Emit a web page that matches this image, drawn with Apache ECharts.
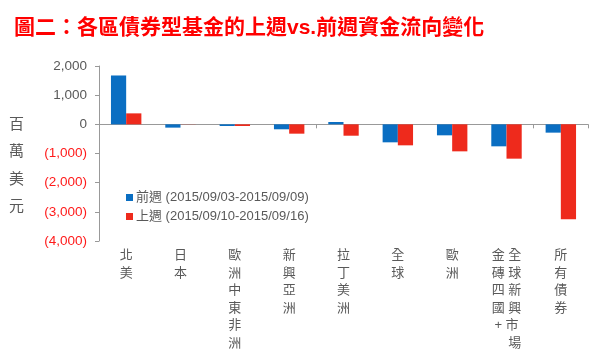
<!DOCTYPE html>
<html>
<head>
<meta charset="utf-8">
<script src="https://cdn.jsdelivr.net/npm/echarts@6/dist/echarts.min.js"></script>
<style>
  html, body { margin: 0; padding: 0; background: #fff; }
  #main { width: 600px; height: 354px; }
</style>
</head>
<body>
<div id="main"></div>
<script>
const categories = ['北美', '日本', '歐洲中東非洲', '新興亞洲', '拉丁美洲', '全球', '歐洲', '全球新興市場金磚四國+', '所有債券'];
const prevWeek = [1675, -113, -57, -170, 80, -617, -377, -754, -285];
const lastWeek = [376, 5, -57, -320, -390, -720, -926, -1177, -3257];
const seriesNames = ['前週 (2015/09/03-2015/09/09)', '上週 (2015/09/10-2015/09/16)'];

const FONT = "'Liberation Sans', 'Noto Sans CJK TC', sans-serif";
const GRAY = '#595959';

// vertical (stacked) category text; long names wrap into a second column on the left
function verticalLabel(name) {
  const chars = Array.from(name);
  if (chars.length <= 6) return chars.join('\n');
  const right = chars.slice(0, 6);
  const left = chars.slice(6);
  return right.map((c, i) => (left[i] || '　') + ' ' + c).join('\n');
}

function fmt(v) {
  const s = Math.abs(v).toLocaleString('en-US');
  return v < 0 ? '{neg|(' + s + ')}' : '{pos|' + s + '}';
}

const chart = echarts.init(document.getElementById('main'));
chart.setOption({
  animation: false,
  backgroundColor: '#fff',
  textStyle: { fontFamily: FONT },
  title: {
    text: '圖二：各區債券型基金的上週vs.前週資金流向變化',
    left: 9, top: 13,
    textStyle: { color: '#ff0000', fontSize: 21, fontWeight: 'bold', fontFamily: FONT }
  },
  graphic: [{
    type: 'text', left: 9, top: 111,
    style: { text: '百\n萬\n美\n元', fill: GRAY, font: '15px ' + FONT, lineHeight: 27.5 }
  }],
  legend: {
    orient: 'vertical', left: 121, top: 186,
    itemWidth: 7, itemHeight: 7, itemGap: 6, icon: 'rect',
    textStyle: { color: GRAY, fontSize: 13, fontFamily: FONT, padding: [0, 0, 0, -2] },
    data: seriesNames
  },
  grid: { left: 99, right: 12, top: 66, bottom: 113 },
  xAxis: [{
    type: 'category', data: categories,
    axisLine: { onZero: true, lineStyle: { color: '#999' } },
    axisTick: { show: true, length: 4, lineStyle: { color: '#999' } },
    axisLabel: { show: false }
  }, {
    type: 'category', data: categories, position: 'bottom',
    axisLine: { show: false }, axisTick: { show: false },
    axisLabel: {
      interval: 0, margin: 6, color: GRAY, fontSize: 13, lineHeight: 17.5,
      fontFamily: FONT, verticalAlign: 'top',
      formatter: verticalLabel
    }
  }],
  yAxis: {
    type: 'value', min: -4000, max: 2000, interval: 1000,
    splitLine: { show: false },
    axisLine: { show: true, lineStyle: { color: '#999' } },
    axisTick: { show: true, length: 4, lineStyle: { color: '#999' } },
    axisLabel: {
      margin: 12, fontSize: 13.5, fontFamily: FONT,
      formatter: fmt,
      rich: {
        pos: { color: GRAY, fontSize: 13.5, fontFamily: FONT },
        neg: { color: '#ff1a1a', fontSize: 13.5, fontFamily: FONT }
      }
    }
  },
  series: [{
    name: seriesNames[0], type: 'bar', data: prevWeek,
    barGap: '0%', barCategoryGap: '44%',
    itemStyle: { color: '#0a6ec2' }
  }, {
    name: seriesNames[1], type: 'bar', data: lastWeek,
    barGap: '0%', barCategoryGap: '44%',
    itemStyle: { color: '#ee2a1c' }
  }]
});
</script>
</body>
</html>
